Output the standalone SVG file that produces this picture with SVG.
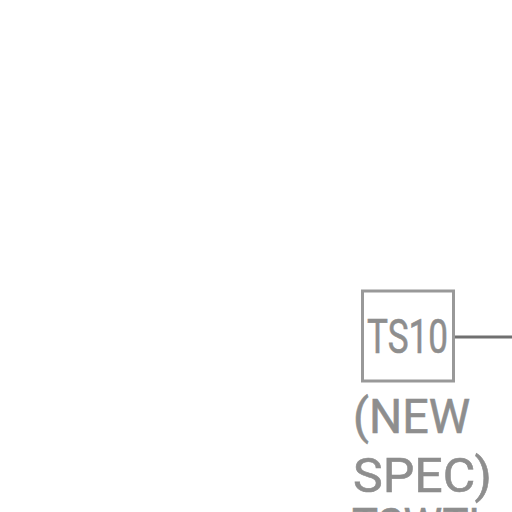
<svg xmlns="http://www.w3.org/2000/svg" width="512" height="512" viewBox="0 0 512 512">
<style>
.lbl{font-family:"Roboto","DejaVu Sans","Liberation Sans",sans-serif;fill:#8e8e8e;stroke:#8e8e8e;stroke-width:0.6;font-size:49px;}
</style>
<rect width="512" height="512" fill="#ffffff"/>
<g id="connectors">
<line x1="455" y1="337" x2="512" y2="337" stroke="#707070" stroke-width="3"/>
</g>
<g id="TS10">
<rect x="362.5" y="291" width="91" height="90" fill="none" stroke="#999999" stroke-width="3"/>
<text class="lbl" x="367" y="353" textLength="81" lengthAdjust="spacingAndGlyphs">TS10</text>
</g>
<g id="label">
<text class="lbl" x="353" y="433" textLength="117" lengthAdjust="spacingAndGlyphs">(NEW</text>
<text class="lbl" x="353" y="492" textLength="139" lengthAdjust="spacingAndGlyphs">SPEC)</text>
<text class="lbl" x="352" y="542" textLength="140" lengthAdjust="spacingAndGlyphs">TSWTL</text>
</g>
</svg>
